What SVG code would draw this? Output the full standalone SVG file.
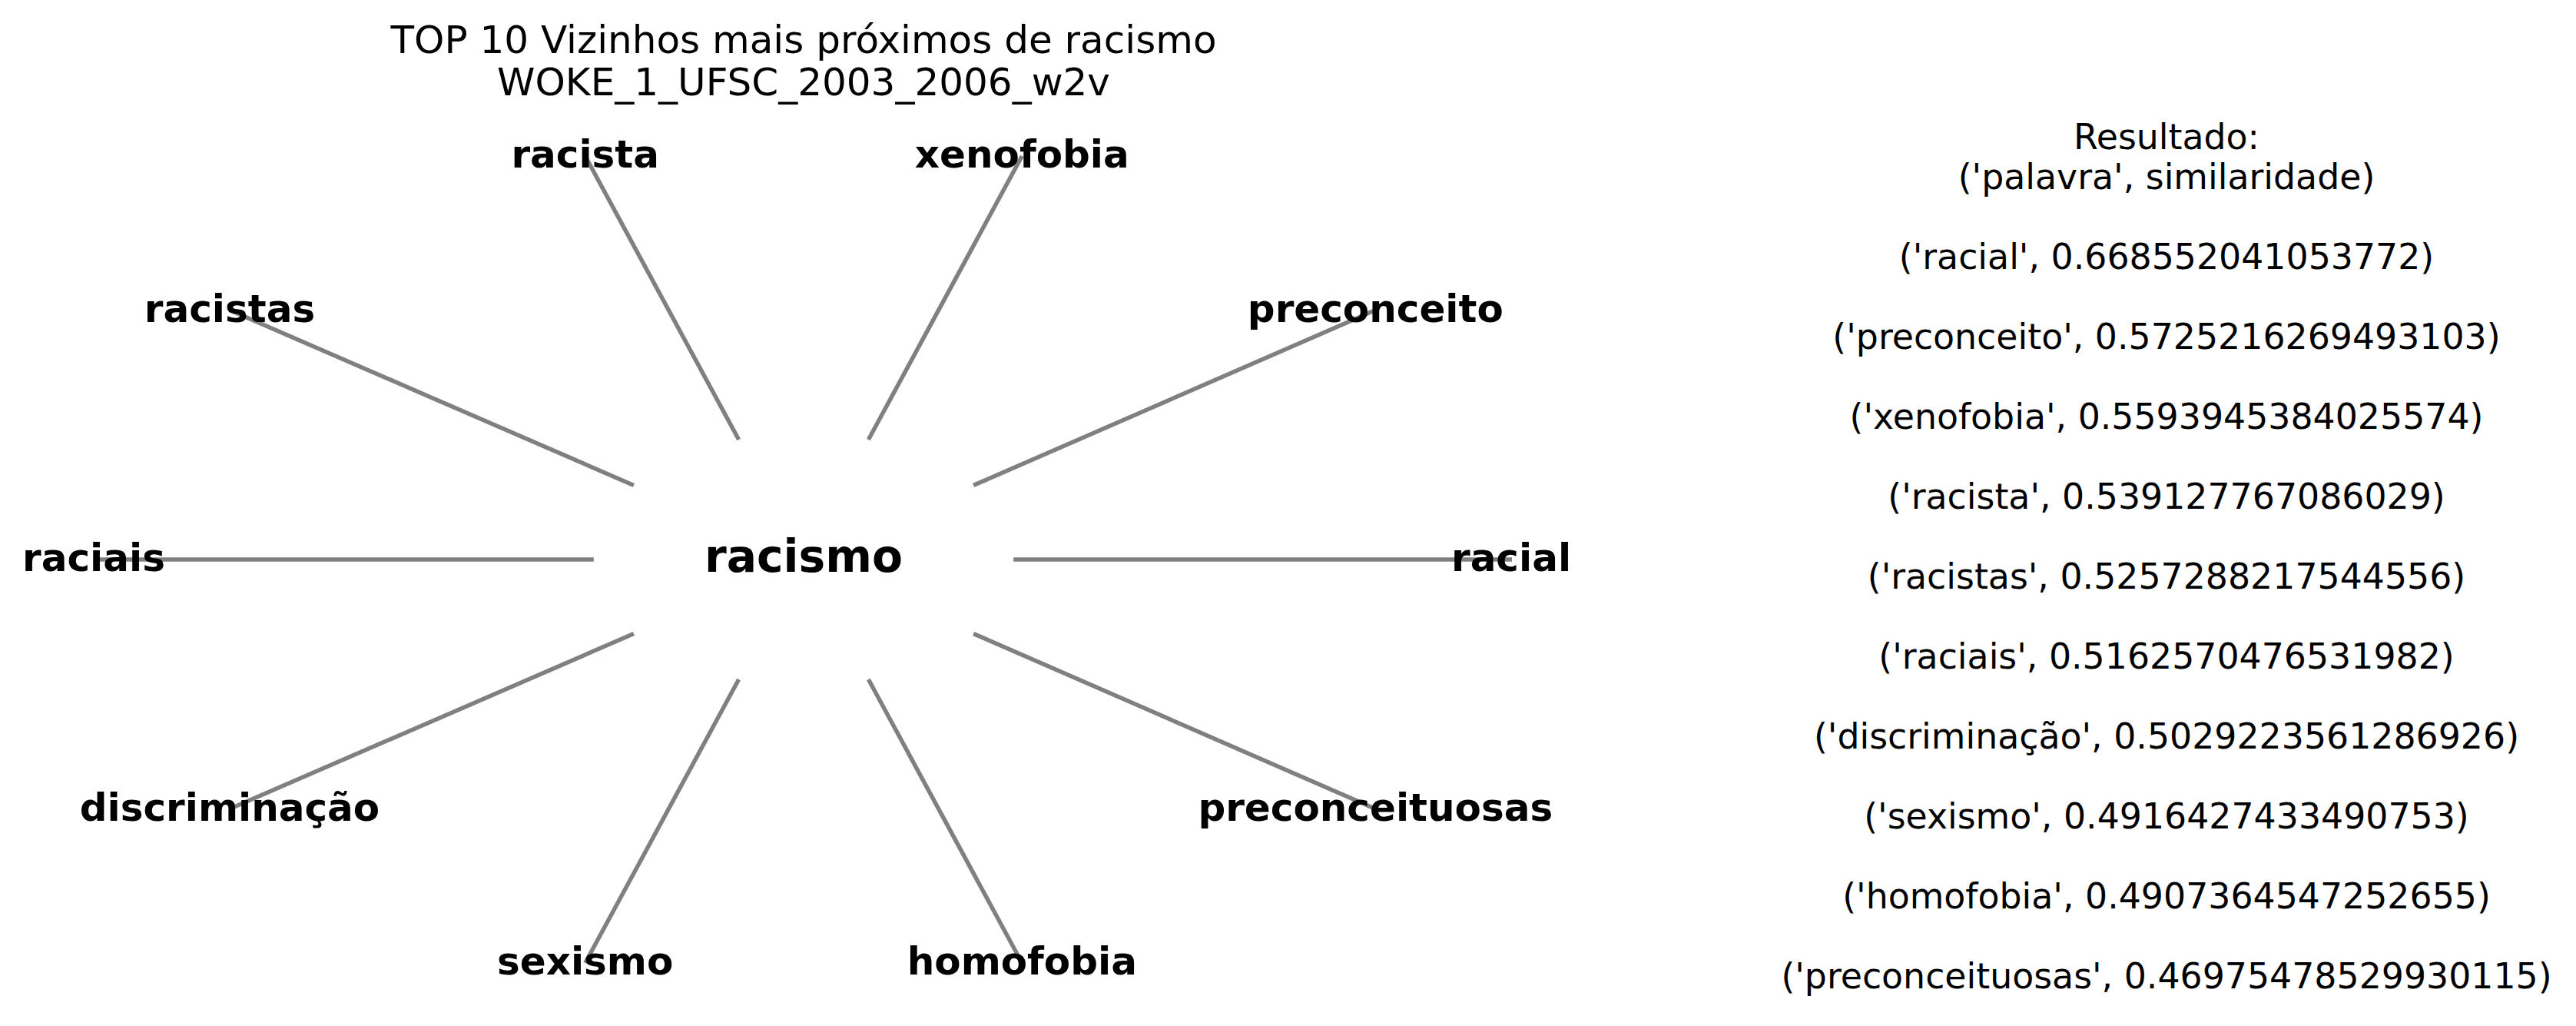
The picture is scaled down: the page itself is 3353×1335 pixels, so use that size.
<svg xmlns="http://www.w3.org/2000/svg" width="3353" height="1335" viewBox="0 0 3353 1335">
<style>
.bg{fill:#ffffff}
.title{font-family:"DejaVu Sans",sans-serif;font-size:50px;fill:#000;text-anchor:middle}
.lbl{font-family:"DejaVu Sans",sans-serif;font-size:50px;font-weight:bold;fill:#000;text-anchor:middle}
.center{font-family:"DejaVu Sans",sans-serif;font-size:58.3px;font-weight:bold;fill:#000;text-anchor:middle}
.res{font-family:"DejaVu Sans",sans-serif;font-size:45.8px;fill:#000;text-anchor:middle}
.edge{stroke:#808080;stroke-width:5.5;fill:none}
</style>
<rect class="bg" x="0" y="0" width="3353" height="1335"/>
<g id="title">
<text class="title" x="1046" y="69">TOP 10 Vizinhos mais próximos de racismo</text>
<text class="title" x="1046" y="124">WOKE_1_UFSC_2003_2006_w2v</text>
</g>
<g id="connectors">
<line class="edge" x1="1319.2" y1="728" x2="1968" y2="728"/>
<line class="edge" x1="1267.1" y1="631.5" x2="1790.3" y2="403.5"/>
<line class="edge" x1="1130.4" y1="572" x2="1330.3" y2="203"/>
<line class="edge" x1="961.6" y1="572" x2="761.7" y2="203"/>
<line class="edge" x1="824.9" y1="631.5" x2="299" y2="403.5"/>
<line class="edge" x1="772.8" y1="728" x2="122" y2="728"/>
<line class="edge" x1="824.9" y1="824.5" x2="299" y2="1052.5"/>
<line class="edge" x1="961.6" y1="884" x2="761.7" y2="1253"/>
<line class="edge" x1="1130.4" y1="884" x2="1330.3" y2="1253"/>
<line class="edge" x1="1267.1" y1="824.5" x2="1790.3" y2="1052.5"/>
</g>
<g id="node-racismo"><text class="center" x="1046" y="744">racismo</text></g>
<g id="node-racial"><text class="lbl" x="1967" y="743">racial</text></g>
<g id="node-preconceito"><text class="lbl" x="1790.3" y="418.5">preconceito</text></g>
<g id="node-xenofobia"><text class="lbl" x="1330.3" y="218">xenofobia</text></g>
<g id="node-racista"><text class="lbl" x="761.7" y="218">racista</text></g>
<g id="node-racistas"><text class="lbl" x="299" y="418.5">racistas</text></g>
<g id="node-raciais"><text class="lbl" x="122" y="743">raciais</text></g>
<g id="node-discriminacao"><text class="lbl" x="299" y="1067.5">discriminação</text></g>
<g id="node-sexismo"><text class="lbl" x="761.7" y="1268">sexismo</text></g>
<g id="node-homofobia"><text class="lbl" x="1330.3" y="1268">homofobia</text></g>
<g id="node-preconceituosas"><text class="lbl" x="1790.3" y="1067.5">preconceituosas</text></g>
<g id="results">
<text class="res" x="2820" y="194">Resultado:</text>
<text class="res" x="2820" y="246">('palavra', similaridade)</text>
<text class="res" x="2820" y="350">('racial', 0.668552041053772)</text>
<text class="res" x="2820" y="454">('preconceito', 0.5725216269493103)</text>
<text class="res" x="2820" y="558">('xenofobia', 0.5593945384025574)</text>
<text class="res" x="2820" y="662">('racista', 0.539127767086029)</text>
<text class="res" x="2820" y="766">('racistas', 0.5257288217544556)</text>
<text class="res" x="2820" y="870">('raciais', 0.5162570476531982)</text>
<text class="res" x="2820" y="974">('discriminação', 0.5029223561286926)</text>
<text class="res" x="2820" y="1078">('sexismo', 0.4916427433490753)</text>
<text class="res" x="2820" y="1182">('homofobia', 0.4907364547252655)</text>
<text class="res" x="2820" y="1286">('preconceituosas', 0.46975478529930115)</text>
</g>
</svg>
